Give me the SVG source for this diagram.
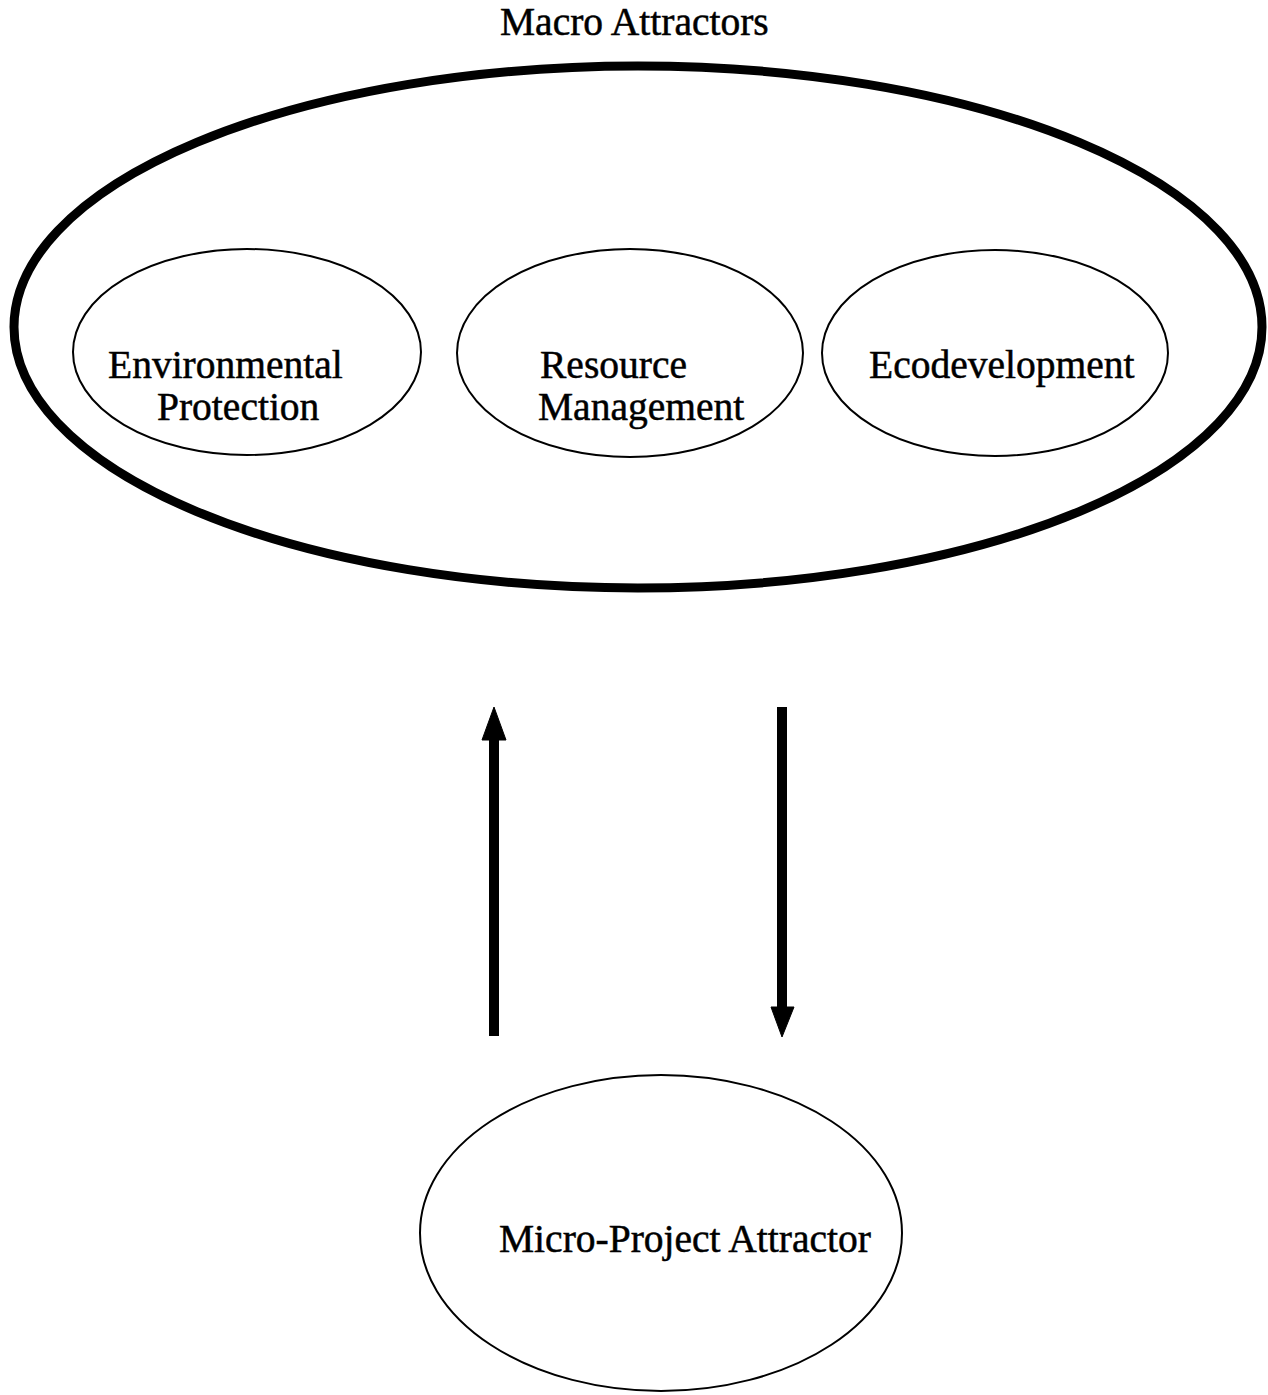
<svg xmlns="http://www.w3.org/2000/svg" width="1268" height="1395" viewBox="0 0 1268 1395">
  <style>
    .lbl { font-family: "Liberation Serif", "Times New Roman", serif; font-size: 39.5px; fill: #000; stroke: #000; stroke-width: 0.5; }
    .inner { fill: none; stroke: #000; stroke-width: 2; }
    .outer { fill: none; stroke: #000; stroke-width: 9; }
    .shaft { stroke: #000; stroke-width: 10; fill: none; }
    .head { fill: #000; stroke: #000; stroke-width: 1; }
  </style>
  <rect width="1268" height="1395" fill="#fff"/>

  <g id="macro-attractors">
    <text class="lbl" x="500" y="35">Macro Attractors</text>
    <ellipse class="outer" cx="638" cy="327" rx="624" ry="261"/>
  </g>

  <g id="environmental-protection">
    <ellipse class="inner" cx="247" cy="352" rx="174" ry="103"/>
    <text class="lbl" x="108" y="378">Environmental</text>
    <text class="lbl" x="157" y="420">Protection</text>
  </g>

  <g id="resource-management">
    <ellipse class="inner" cx="630" cy="353" rx="173" ry="104"/>
    <text class="lbl" x="540" y="378">Resource</text>
    <text class="lbl" x="538" y="420">Management</text>
  </g>

  <g id="ecodevelopment">
    <ellipse class="inner" cx="995" cy="353" rx="173" ry="103"/>
    <text class="lbl" x="869" y="378">Ecodevelopment</text>
  </g>

  <g id="micro-project-attractor">
    <ellipse class="inner" cx="661" cy="1233" rx="241" ry="158"/>
    <text class="lbl" x="499" y="1252">Micro-Project Attractor</text>
  </g>

  <g id="connectors">
    <!-- upward: micro to macro -->
    <line class="shaft" x1="494" y1="1036" x2="494" y2="735"/>
    <polygon class="head" points="494,707 506,740 482,740"/>
    <!-- downward: macro to micro -->
    <line class="shaft" x1="782" y1="707" x2="782" y2="1010"/>
    <polygon class="head" points="771,1007 794,1007 782,1037"/>
  </g>
</svg>
